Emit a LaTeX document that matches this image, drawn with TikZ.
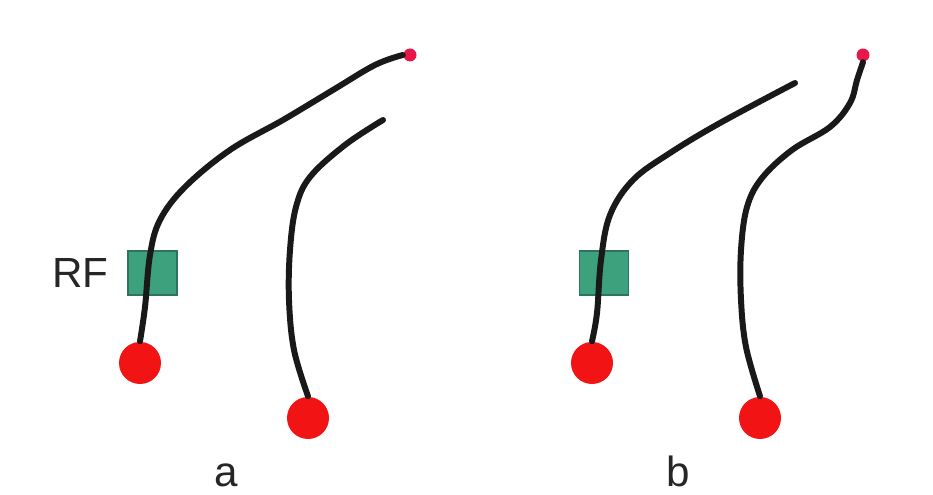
\documentclass[tikz,border=0pt]{standalone}
\usepackage{fontspec}
\setmainfont{Liberation Sans}
\usepackage{xcolor}
\usepackage{tikz}
\usetikzlibrary{positioning}
\definecolor{boule}{rgb}{0.95, 0.08, 0.08}
\definecolor{pointe}{rgb}{0.91, 0.09, 0.29}
\definecolor{vert}{rgb}{0.24, 0.63, 0.49}
\definecolor{vertfonce}{rgb}{0.18, 0.45, 0.36}

\tikzset{
    fil/.style={line width=1.7pt, line cap=round, black!90},
    ballon/.style={circle, fill=boule, minimum size=0.42cm, inner sep=0},
    bout/.style={circle, fill=pointe, minimum size=0.13cm, inner sep=0},
    rfbox/.style={rectangle, fill=vert, draw=vertfonce, line width=0.4pt,
        minimum width=0.49cm, minimum height=0.44cm, inner sep=0},
    lettre/.style={font=\fontsize{12}{14}\selectfont, text=black!85, inner sep=0}
}

\begin{document}
\begin{tikzpicture}
    % Fond
    \useasboundingbox (0, 0) rectangle (9.33, 4.95);

    % Boites RF
    \node[rfbox] (rfA) at (1.525, 2.22) {};
    \node[rfbox] (rfB) at (6.04, 2.22) {};
    \node[lettre, left=0.18cm of rfA] (labRF) {RF};

    % Ballons et pointes
    \node[ballon] (ballA1) at (1.40, 1.32) {};
    \node[ballon] (ballA2) at (3.08, 0.77) {};
    \node[ballon] (ballB1) at (5.92, 1.32) {};
    \node[ballon] (ballB2) at (7.60, 0.77) {};
    \node[bout] (tipA1) at (4.10, 4.40) {};
    \node[bout] (tipB2) at (8.63, 4.40) {};
    \coordinate (endA2) at (3.83, 3.75);
    \coordinate (endB1) at (7.95, 4.12);

    % Fils, cas a
    \draw[fil] plot[smooth, tension=0.6] coordinates {(ballA1.north) (1.45, 1.88)
        (1.50, 2.40) (1.60, 2.75) (1.85, 3.08) (2.30, 3.45)
        (2.83, 3.75) (3.33, 4.05) (3.75, 4.30) (tipA1.west)};
    \draw[fil] plot[smooth, tension=0.6] coordinates {(ballA2.north) (2.94, 1.45)
        (2.89, 1.95) (2.90, 2.45) (2.96, 2.88) (3.10, 3.18)
        (3.45, 3.50) (endA2)};

    % Fils, cas b
    \draw[fil] plot[smooth, tension=0.6] coordinates {(ballB1.north) (5.97, 1.82)
        (6.01, 2.35) (6.10, 2.80) (6.33, 3.15) (6.70, 3.42)
        (7.20, 3.72) (endB1)};
    \draw[fil] plot[smooth, tension=0.6] coordinates {(ballB2.north) (7.46, 1.48)
        (7.41, 1.95) (7.41, 2.45) (7.47, 2.88) (7.62, 3.17)
        (7.92, 3.45) (8.30, 3.68) (8.50, 3.92) (8.57, 4.15) (tipB2.south)};

    % Legendes
    \node[lettre, anchor=base] (labA) at (2.26, 0.08) {a};
    \node[lettre, anchor=base] (labB) at (6.78, 0.08) {b};
\end{tikzpicture}
\end{document}
